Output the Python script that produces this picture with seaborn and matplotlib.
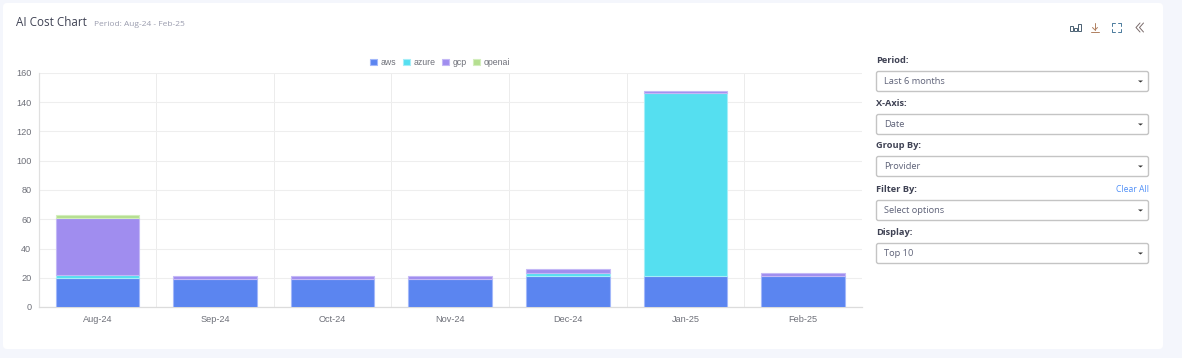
import numpy as np
import matplotlib
matplotlib.use("Agg")
import matplotlib.pyplot as plt
from matplotlib.patches import FancyBboxPatch, Rectangle
import seaborn as sns

months = ["Aug-24", "Sep-24", "Oct-24", "Nov-24", "Dec-24", "Jan-25", "Feb-25"]
providers = ["aws", "azure", "gcp", "openai"]
aws = [19.5, 19, 19, 19, 21, 21, 21]
azure = [2.5, 0, 0, 0, 2, 125, 0]
gcp = [39, 2.5, 2.5, 2.5, 2.8, 2, 2.5]
openai = [2, 0, 0, 0, 0, 0, 0]
y_ticks = [0, 20, 40, 60, 80, 100, 120, 140, 160]

colors = ["#5b85f0", "#55dff0", "#a08def", "#b5df90"]
edges = ["#a3b8fa", "#a5eef8", "#c4b8f6", "#d3eebd"]

# form controls on the right
controls = [("Period:", "Last 6 months", 60.5, 81),
            ("X-Axis:", "Date", 103.5, 124),
            ("Group By:", "Provider", 146, 166),
            ("Filter By:", "Select options", 189.5, 210),
            ("Display:", "Top 10", 232.5, 253)]

sns.set_theme(style="white")
plt.rcParams['font.family'] = ['Liberation Sans', 'DejaVu Sans']

fig = plt.figure(figsize=(11.82, 3.58), dpi=100, facecolor="#f4f6fc")

# page layer in pixel coordinates
ui = fig.add_axes([0, 0, 1, 1])
ui.set_xlim(0, 1182)
ui.set_ylim(358, 0)
ui.axis("off")
ui.add_patch(FancyBboxPatch((6, 6), 1154, 340, boxstyle="round,pad=3,rounding_size=4",
                            fc="white", ec="none"))
ui.text(16, 23, "AI Cost Chart", fontsize=8.4, family="Open Sans", color="#3f4254", va="center")
ui.text(94, 24.5, "Period: Aug-24 - Feb-25", fontsize=6.0, family="Open Sans", color="#9a9cae", va="center")

for label, value, ly, by in controls:
    ui.text(876, ly, label, fontsize=6.7, family="Open Sans", fontweight="bold", color="#3f4254", va="center")
    ui.add_patch(FancyBboxPatch((877, by - 9), 271, 19, boxstyle="round,pad=0.5,rounding_size=2",
                                fc="white", ec="#c4c4c4", lw=1))
    ui.text(884, by + 0.3, value, fontsize=6.7, family="Open Sans", color="#5e6278", va="center")
    ui.fill([1138, 1143, 1140.5], [by - 0.5, by - 0.5, by + 1.5], color="#333333", lw=0)
ui.text(1149, 190, "Clear All", fontsize=6.2, family="Open Sans", color="#4f8ff7", va="center", ha="right")

# toolbar icons
icon = "#4a6072"
for x0, top in [(1070, 26), (1074, 28), (1078, 24)]:
    ui.add_patch(Rectangle((x0, top), 3, 31 - top, fc="none", ec=icon, lw=0.7))
ui.plot([1095, 1095], [23, 29.5], color="#b08060", lw=0.7)
ui.plot([1092.5, 1095, 1097.5], [27.5, 30, 27.5], color="#b08060", lw=0.7)
ui.plot([1091, 1099], [32, 32], color="#b08060", lw=0.7)
for xs, ys in [([1112, 1112, 1115], [26, 23, 23]), ([1118, 1121, 1121], [23, 23, 26]),
               ([1112, 1112, 1115], [29, 32, 32]), ([1118, 1121, 1121], [32, 32, 29])]:
    ui.plot(xs, ys, color="#4a7a9c", lw=0.7)
for dx in [0, 3.5]:
    ui.plot([1140 + dx, 1136 + dx, 1140 + dx], [23, 27.5, 32], color="#7a6b6b", lw=0.7)

# chart
ax = fig.add_axes([38.5 / 1182, 1 - 307 / 358, (862 - 38.5) / 1182, 234 / 358])
ax.patch.set_alpha(0)
bottom = np.zeros(len(months))
for name, vals, c, e in zip(providers, [aws, azure, gcp, openai], colors, edges):
    vals = np.array(vals, dtype=float)
    # zero segments would still show their outline, so leave them out
    keep = vals > 0
    sns.barplot(x=np.array(months)[keep], y=vals[keep], bottom=bottom[keep], order=months,
                color=c, saturation=1, width=0.71, edgecolor=e, linewidth=0.8,
                label=name, legend=False, ax=ax, zorder=3)
    bottom = bottom + vals

ax.set_xlim(-0.5, 6.5)
ax.set_ylim(0, 160)
ax.set_yticks(y_ticks)
ax.set_xticks(np.arange(-0.5, 7), minor=True)
ax.grid(True, which="minor", axis="x", color="#ececec", lw=0.7)
ax.grid(True, which="major", axis="y", color="#eeeeee", lw=0.8)
ax.grid(False, which="major", axis="x")
ax.set_axisbelow(True)
ax.tick_params(axis="x", which="major", length=0, labelsize=6.6, labelcolor="#6e7079", pad=6)
ax.tick_params(axis="x", which="minor", length=3.6, width=0.7, color="#e6e6e6")
ax.tick_params(axis="y", length=3.6, width=0.8, color="#eeeeee", labelsize=6.6, labelcolor="#6e7079", pad=1.5)
ax.set_xlabel("")
ax.set_ylabel("")
for s in ["top", "right"]:
    ax.spines[s].set_visible(False)
ax.spines["left"].set_color("#e0e0e0")
ax.spines["bottom"].set_color("#dcdcdc")
ax.spines["left"].set_linewidth(0.9)
ax.spines["bottom"].set_linewidth(0.9)

handles, labels = ax.get_legend_handles_labels()
ax.legend(handles, labels, loc="lower center", bbox_to_anchor=(0.4875, 1.025), ncol=4, frameon=False,
          fontsize=6.3, labelcolor="#6e7079", handlelength=0.8, handleheight=0.8, handletextpad=0.45,
          columnspacing=0.7, borderpad=0, borderaxespad=0)

fig.savefig("out.png", dpi=100, facecolor=fig.get_facecolor())
